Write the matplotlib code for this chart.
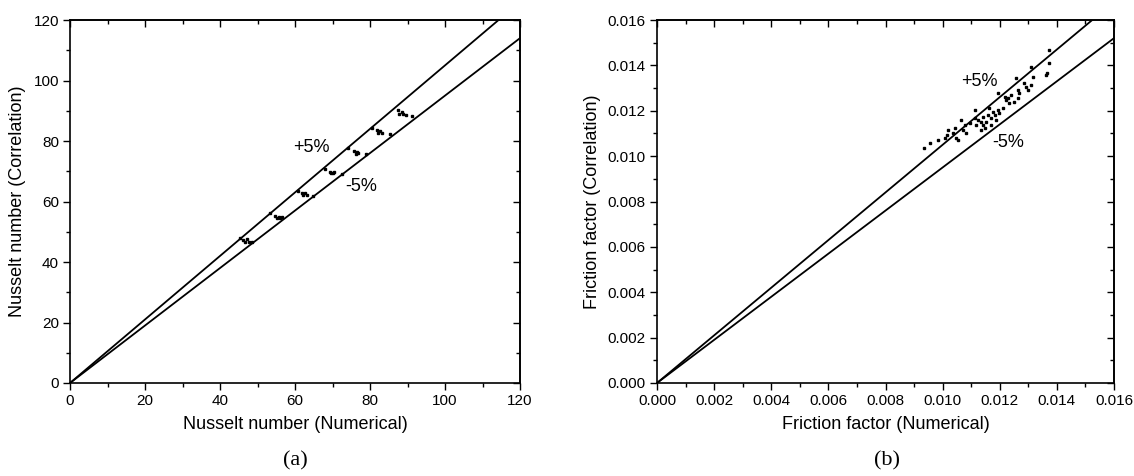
import matplotlib
matplotlib.use("Agg")
import matplotlib.pyplot as plt
from matplotlib.ticker import MultipleLocator, FormatStrFormatter

plt.rcParams['font.family'] = ['Liberation Sans', 'DejaVu Sans']

# Panel (a): Nusselt number
nu_num = [87.4, 88.4, 88.9, 87.8, 89.6, 91.2,
          80.4, 81.9, 82.7, 83.1, 82.2, 85.3,
          74.2, 75.6, 76.4, 76.3, 76.9, 78.9,
          68.0, 69.3, 70.0, 70.4, 72.4, 69.6,
          60.9, 61.8, 62.7, 63.1, 62.2, 64.7,
          53.3, 54.7, 55.6, 56.4, 55.1, 55.9,
          45.3, 46.2, 47.1, 47.6, 46.7, 48.4]
nu_cor = [90.2, 89.7, 88.9, 88.8, 88.6, 88.4,
          84.2, 83.6, 83.3, 82.5, 82.5, 82.2,
          77.6, 76.8, 76.5, 75.7, 75.9, 75.6,
          70.6, 69.9, 69.3, 69.9, 69.1, 69.5,
          63.5, 62.7, 62.9, 62.1, 62.1, 61.9,
          56.1, 55.2, 54.8, 55.0, 54.4, 54.7,
          47.8, 47.3, 47.5, 46.7, 46.7, 46.6]

# Panel (b): Friction factor
f_num = [0.00936, 0.00956, 0.00985, 0.01008, 0.01019, 0.01014, 0.01037, 0.01043,
         0.01048, 0.01054, 0.01066, 0.01072, 0.01078, 0.01083, 0.01095, 0.01112,
         0.01112, 0.01118, 0.01124, 0.01135, 0.01135, 0.01141, 0.01141, 0.01147,
         0.01153, 0.01158, 0.01164, 0.01168, 0.01170, 0.01176, 0.01182, 0.01187,
         0.01193, 0.01193, 0.01199, 0.01211, 0.01217, 0.01222, 0.01228, 0.01234,
         0.01240, 0.01251, 0.01257, 0.01263, 0.01263, 0.01269, 0.01286, 0.01292,
         0.01298, 0.01309, 0.01315, 0.01309, 0.01367, 0.01373, 0.01373, 0.01361]
f_cor = [0.01034, 0.01059, 0.01071, 0.01081, 0.01115, 0.01093, 0.01101, 0.01123,
         0.01081, 0.01071, 0.01159, 0.01115, 0.01137, 0.01101, 0.01145, 0.01203,
         0.01167, 0.01137, 0.01159, 0.01152, 0.01115, 0.01137, 0.01174, 0.01123,
         0.01152, 0.01181, 0.01211, 0.01137, 0.01167, 0.01196, 0.01181, 0.01159,
         0.01203, 0.01277, 0.01189, 0.01211, 0.01262, 0.01247, 0.01255, 0.01233,
         0.01269, 0.01240, 0.01343, 0.01291, 0.01255, 0.01277, 0.01321, 0.01306,
         0.01291, 0.01394, 0.01350, 0.01313, 0.01365, 0.01409, 0.01468, 0.01357]

band = [1.05, 0.95]
band_labels = ['+5%', '-5%']

fig = plt.figure(figsize=(11.34, 4.76), dpi=100)
ax1 = fig.add_axes([70/1134, 93/476, 450/1134, 363/476])
ax2 = fig.add_axes([657/1134, 93/476, 457/1134, 363/476])

TICK_FS = 11
LABEL_FS = 13
NOTE_FS = 13


def style(ax, xmax, major, minor, fmt=None):
    ax.set_xlim(0, xmax)
    ax.set_ylim(0, xmax)
    ax.xaxis.set_major_locator(MultipleLocator(major))
    ax.yaxis.set_major_locator(MultipleLocator(major))
    ax.xaxis.set_minor_locator(MultipleLocator(minor))
    ax.yaxis.set_minor_locator(MultipleLocator(minor))
    if fmt:
        ax.xaxis.set_major_formatter(FormatStrFormatter(fmt))
        ax.yaxis.set_major_formatter(FormatStrFormatter(fmt))
    for s in ax.spines.values():
        s.set_linewidth(1.2)
    ax.tick_params(which='both', direction='out', top=False, right=False,
                   labelsize=TICK_FS, width=1.0, color='black', pad=3)
    ax.tick_params(which='major', length=5)
    ax.tick_params(which='minor', length=3)
    sec_x = ax.secondary_xaxis('top')
    sec_y = ax.secondary_yaxis('right')
    for sec, axis in ((sec_x, 'x'), (sec_y, 'y')):
        loc = sec.xaxis if axis == 'x' else sec.yaxis
        loc.set_major_locator(MultipleLocator(major))
        loc.set_minor_locator(MultipleLocator(minor))
        sec.tick_params(which='both', direction='in', labelleft=False,
                        labelright=False, labeltop=False, labelbottom=False, width=1.0)
        sec.tick_params(which='major', length=5)
        sec.tick_params(which='minor', length=3)
        for s in sec.spines.values():
            s.set_linewidth(1.2)


# Panel (a)
xmax_a = 120
for k in band:
    ax1.plot([0, xmax_a], [0, k * xmax_a], color='black', lw=1.3, clip_on=True)
ax1.plot(nu_num, nu_cor, ls='none', marker='s', ms=1.6, color='black')
style(ax1, xmax_a, 20, 10)
ax1.set_xlabel('Nusselt number (Numerical)', fontsize=LABEL_FS, labelpad=6)
ax1.set_ylabel('Nusselt number (Correlation)', fontsize=LABEL_FS, labelpad=5)
ax1.text(64.3, 77.7, band_labels[0], fontsize=NOTE_FS, ha='center', va='center')
ax1.text(77.7, 65.0, band_labels[1], fontsize=NOTE_FS, ha='center', va='center')

# Panel (b)
xmax_b = 0.016
for k in band:
    ax2.plot([0, xmax_b], [0, k * xmax_b], color='black', lw=1.3, clip_on=True)
ax2.plot(f_num, f_cor, ls='none', marker='s', ms=1.6, color='black')
style(ax2, xmax_b, 0.002, 0.001, '%.3f')
ax2.set_xlabel('Friction factor (Numerical)', fontsize=LABEL_FS, labelpad=6)
ax2.set_ylabel('Friction factor (Correlation)', fontsize=LABEL_FS, labelpad=5)
ax2.text(0.01127, 0.01331, band_labels[0], fontsize=NOTE_FS, ha='center', va='center')
ax2.text(0.01228, 0.01060, band_labels[1], fontsize=NOTE_FS, ha='center', va='center')

fig.text(295/1134, 1 - 461/476, '(a)', fontsize=16, family='Liberation Serif',
         ha='center', va='center')
fig.text(887/1134, 1 - 461/476, '(b)', fontsize=16, family='Liberation Serif',
         ha='center', va='center')

fig.savefig('out.png', dpi=100)
